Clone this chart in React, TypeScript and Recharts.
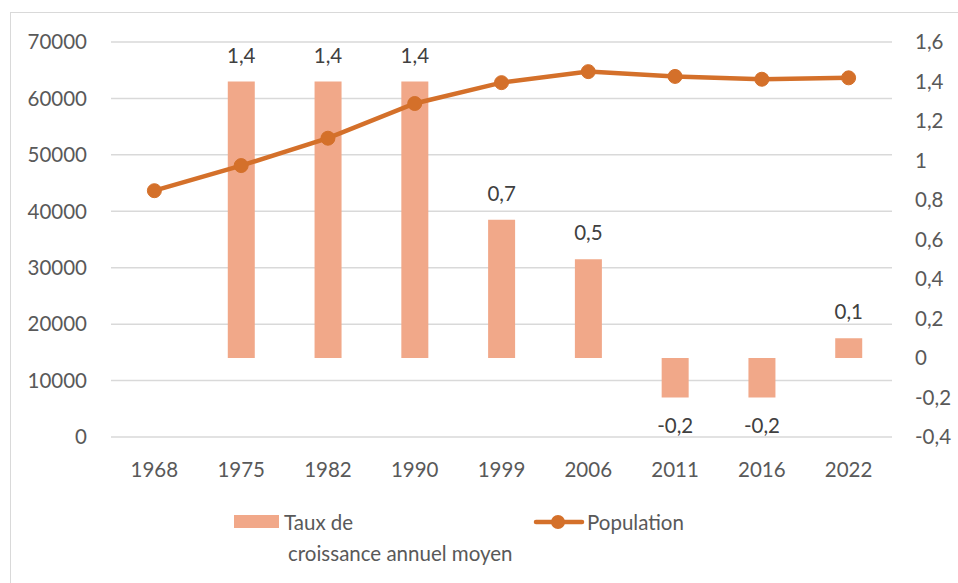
import { ComposedChart, Bar, Line, XAxis, YAxis, CartesianGrid, LabelList } from "recharts";

const years = ["1968", "1975", "1982", "1990", "1999", "2006", "2011", "2016", "2022"];
const growthRate = [null, 1.4, 1.4, 1.4, 0.7, 0.5, -0.2, -0.2, 0.1];
const population = [43650, 48100, 52950, 59100, 62800, 64750, 63900, 63400, 63650];
const leftTicks = [0, 10000, 20000, 30000, 40000, 50000, 60000, 70000];
const rightTicks = [-0.4, -0.2, 0, 0.2, 0.4, 0.6, 0.8, 1, 1.2, 1.4, 1.6];

const data = years.map((year, i) => ({ year, rate: growthRate[i], population: population[i] }));

const TEXT = "#595959";
const BAR = "#F1A889";
const LINE = "#D4702A";
const FONT = "Lato, 'Open Sans', sans-serif";

const fmt = (v: number) => String(Math.round(v * 10) / 10).replace(".", ",");

const RateLabel = (props: any) => {
  const { x, y, width, height, value } = props;
  if (value == null) return null;
  const top = Math.min(y, y + height);
  const bottom = Math.max(y, y + height);
  const ty = value >= 0 ? top - 19 : bottom + 35;
  return (
    <text x={x + width / 2} y={ty} textAnchor="middle" fill="#404040" fontSize={20.5} fontFamily={FONT}>
      {fmt(value)}
    </text>
  );
};

export default function App() {
  return (
    <div style={{ position: "absolute", left: 0, top: 0, width: 958, height: 583, background: "#fff", overflow: "hidden", fontFamily: FONT }}>
      <div style={{ position: "absolute", left: 10, top: 12, width: 960, height: 600, border: "1px solid #d9d9d9", boxSizing: "border-box" }} />
      <ComposedChart width={958} height={583} data={data} margin={{ top: 42, right: 0, left: 0, bottom: 0 }}>
        <CartesianGrid vertical={false} stroke="#d9d9d9" strokeWidth={1.5} yAxisId="left" />
        <XAxis dataKey="year" axisLine={false} tickLine={false} tickSize={0} tickMargin={25} height={146} interval={0}
          tick={{ fill: TEXT, fontSize: 20.5, fontFamily: FONT }} />
        <YAxis yAxisId="left" orientation="left" domain={[0, 70000]} ticks={leftTicks} width={111} axisLine={false}
          tickLine={false} tickSize={0} tickMargin={24} interval={0} tick={{ fill: TEXT, fontSize: 20.5, fontFamily: FONT }} />
        <YAxis yAxisId="right" orientation="right" domain={[-0.4, 1.6]} ticks={rightTicks} width={66} axisLine={false}
          tickLine={false} tickSize={0} tickMargin={23} interval={0} tickFormatter={fmt}
          tick={{ fill: TEXT, fontSize: 20.5, fontFamily: FONT, textAnchor: "start" }} />
        <Bar yAxisId="right" dataKey="rate" fill={BAR} barSize={27} isAnimationActive={false}>
          <LabelList dataKey="rate" content={RateLabel} />
        </Bar>
        <Line yAxisId="left" dataKey="population" stroke={LINE} strokeWidth={4.5}
          dot={{ r: 7, fill: LINE, stroke: LINE, strokeWidth: 1 }} activeDot={false} isAnimationActive={false} />
      </ComposedChart>
      <div style={{ position: "absolute", left: 234, top: 515, width: 45, height: 13, background: BAR }} />
      <div style={{ position: "absolute", left: 284, top: 507, color: TEXT, fontSize: 20.5, lineHeight: "31px" }}>
        Taux de<br /><span style={{ marginLeft: 4 }}>croissance annuel moyen</span>
      </div>
      <svg style={{ position: "absolute", left: 533, top: 510 }} width={52} height={24}>
        <line x1={3} y1={12} x2={49} y2={12} stroke={LINE} strokeWidth={4.5} strokeLinecap="round" />
        <circle cx={25} cy={12} r={7} fill={LINE} />
      </svg>
      <div style={{ position: "absolute", left: 587, top: 507, color: TEXT, fontSize: 20.5, lineHeight: "31px" }}>Population</div>
    </div>
  );
}
